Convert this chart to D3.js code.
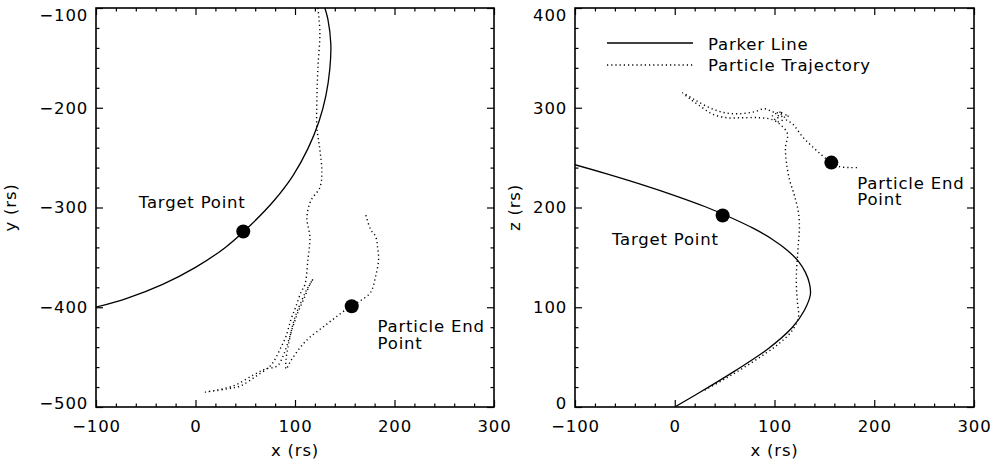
<!DOCTYPE html>
<meta charset="utf-8">
<style>
body { margin: 0; background: #fff; }
svg text { font-family: "DejaVu Sans", sans-serif; font-size: 16.5px; letter-spacing: 0.8px; fill: #000; }
.frame { fill: none; stroke: #000; stroke-width: 1.6; }
.tick line { stroke: #000; stroke-width: 1.2; }
.domain { display: none; }
.parker { fill: none; stroke: #000; stroke-width: 1.3; }
.traj { fill: none; stroke: #000; stroke-width: 1.4; stroke-dasharray: 1.2,3; }
</style>
<script src="https://d3js.org/d3.v7.min.js"></script>
<body>
<svg id="chart" width="995" height="466"></svg>
<script>
// axis ticks
var xTicks = [-100, 0, 100, 200, 300];
var yTicks = [-500, -400, -300, -200, -100];
var zTicks = [0, 100, 200, 300, 400];

// x-y plane
var parkerXY = [[130,-100],[133,-111],[136,-136],[135,-161],[131,-188],[124,-214],[113,-241],[98,-268],
  [79,-293],[56,-317],[30,-340],[0,-360],[-33,-377],[-69,-391],[-104,-401]];
var trajXY = [[123,-100],[125,-125],[123,-160],[122,-192],[122,-220],[125,-242],[127,-265],[125,-280],
  [116,-293],[112,-310],[115,-330],[113,-352],[110,-377],[106,-385],[101,-399],[96,-412],[91,-429],
  [85,-442],[80,-452],[75,-459],[61,-469],[45,-479],[31,-482],[10,-485],[22,-483],[40,-478],[58,-468],
  [70,-462],[82,-459],[88,-449],[93,-435],[98,-419],[103,-405],[110,-389],[115,-377],[118,-372],
  [112,-382],[106,-395],[100,-410],[96,-425],[93,-440],[91,-452],[91,-462],[95,-455],[101,-446],
  [108,-437],[115,-430],[128,-420],[141,-410],[156,-399],[165,-394],[176,-385],[181,-369],[184,-352],
  [183,-340],[181,-329],[176,-322],[171,-307]];
var targetXY = [48, -324];
var endXY = [157, -399];

// x-z plane
var parkerXZ = [[0,0],[24,14],[60,36],[93,58],[118,80],[130,97],[136,113],[135,124],[131,135],[124,146],
  [113,157],[98,168],[79,179],[56,190],[30,201],[0,212],[-33,223],[-69,234],[-104,244]];
var trajXZ = [[30,17],[50,28],[70,40],[90,53],[105,64],[118,77],[124,90],[123,105],[122,120],[122,135],
  [123,150],[124,165],[125,180],[124,195],[120,212],[115,228],[112,245],[111,260],[113,274],[107,282],
  [98,288],[85,290],[68,290],[52,290],[37,294],[25,302],[15,309],[8,315],[20,308],[35,300],[50,295],
  [65,294],[80,296],[90,299],[98,296],[106,294],[110,290],[104,286],[98,292],[108,296],[102,290],
  [114,293],[112,288],[118,284],[128,271],[138,261],[148,252],[157,245],[165,241],[175,240],[184,240]];
var targetXZ = [48, 192];
var endXZ = [157, 245];

var svg = d3.select("#chart");

function drawPanel(p) {
  var x = d3.scaleLinear().domain([-100, 300]).range([p.left, p.right]);
  var y = d3.scaleLinear().domain(p.yDomain).range([p.bottom, p.top]);
  var g = svg.append("g");
  var minorX = d3.range(-100, 301, 20).filter(function(v) { return v % 100 !== 0; });
  var minorY = d3.range(p.yDomain[0], p.yDomain[1] + 1, 20).filter(function(v) { return v % 100 !== 0; });

  var clipId = "clip" + p.left;
  svg.append("clipPath").attr("id", clipId).append("rect")
    .attr("x", p.left).attr("y", p.top).attr("width", p.right - p.left).attr("height", p.bottom - p.top);

  var line = d3.line().x(function(d) { return x(d[0]); }).y(function(d) { return y(d[1]); }).curve(d3.curveCatmullRom);
  var plot = g.append("g").attr("clip-path", "url(#" + clipId + ")");
  plot.append("path").attr("class", "parker").attr("d", line(p.parker));
  plot.append("path").attr("class", "traj").attr("d", line(p.traj));
  [p.target, p.end].forEach(function(d) {
    plot.append("circle").attr("cx", x(d[0])).attr("cy", y(d[1])).attr("r", 7).attr("fill", "#000");
  });

  // ticks, inward on all four sides
  g.append("g").attr("transform", "translate(0," + p.bottom + ")")
    .call(d3.axisBottom(x).tickValues(xTicks).tickSizeInner(-7).tickSizeOuter(0).tickPadding(13));
  g.append("g").attr("transform", "translate(0," + p.bottom + ")")
    .call(d3.axisBottom(x).tickValues(minorX).tickSize(-3.5).tickFormat(""));
  g.append("g").attr("transform", "translate(0," + p.top + ")")
    .call(d3.axisTop(x).tickValues(xTicks).tickSize(-7).tickFormat(""));
  g.append("g").attr("transform", "translate(0," + p.top + ")")
    .call(d3.axisTop(x).tickValues(minorX).tickSize(-3.5).tickFormat(""));
  var yl = g.append("g").attr("transform", "translate(" + p.left + ",0)")
    .call(d3.axisLeft(y).tickValues(p.yTicks).tickSizeInner(-7).tickSizeOuter(0).tickPadding(8));
  yl.selectAll(".tick text").attr("dy", function(d) {
    return d === p.yDomain[1] ? "0.75em" : d === p.yDomain[0] ? "0.08em" : "0.32em";
  });
  g.append("g").attr("transform", "translate(" + p.left + ",0)")
    .call(d3.axisLeft(y).tickValues(minorY).tickSize(-3.5).tickFormat(""));
  g.append("g").attr("transform", "translate(" + p.right + ",0)")
    .call(d3.axisRight(y).tickValues(p.yTicks).tickSize(-7).tickFormat(""));
  g.append("g").attr("transform", "translate(" + p.right + ",0)")
    .call(d3.axisRight(y).tickValues(minorY).tickSize(-3.5).tickFormat(""));
  g.selectAll(".tick text").attr("font-family", null).attr("font-size", null).attr("fill", "#000");

  g.append("rect").attr("class", "frame")
    .attr("x", p.left).attr("y", p.top).attr("width", p.right - p.left).attr("height", p.bottom - p.top);

  g.append("text").attr("x", (p.left + p.right) / 2).attr("y", 456).attr("text-anchor", "middle").text("x (rs)");
  g.append("text").attr("transform", "translate(" + p.yTitleX + "," + (p.top + p.bottom) / 2 + ") rotate(-90)")
    .attr("text-anchor", "middle").text(p.yTitle);

  g.append("text").attr("x", x(p.targetLabel[0])).attr("y", y(p.targetLabel[1])).text("Target Point");
  g.append("text").attr("x", x(p.endLabel[0])).attr("y", y(p.endLabel[1])).text("Particle End");
  g.append("text").attr("x", x(p.endLabel[0])).attr("y", y(p.endLabel[1]) + p.lineGap).text("Point");
  return { x: x, y: y, g: g };
}

drawPanel({
  left: 96, right: 494, top: 8, bottom: 407,
  yDomain: [-500, -100], yTicks: yTicks, yTitle: "y (rs)", yTitleX: 16,
  parker: parkerXY, traj: trajXY, target: targetXY, end: endXY,
  targetLabel: [-57, -300], endLabel: [183, -425], lineGap: 17
});

var right = drawPanel({
  left: 575, right: 974, top: 8, bottom: 407,
  yDomain: [0, 400], yTicks: zTicks, yTitle: "z (rs)", yTitleX: 520,
  parker: parkerXZ, traj: trajXZ, target: targetXZ, end: endXZ,
  targetLabel: [-63, 162], endLabel: [183, 219], lineGap: 16
});

// legend
var legend = right.g.append("g");
legend.append("line").attr("class", "parker").attr("x1", 607).attr("x2", 693).attr("y1", 43).attr("y2", 43);
legend.append("line").attr("class", "traj").attr("x1", 607).attr("x2", 693).attr("y1", 65).attr("y2", 65);
legend.append("text").attr("x", 708).attr("y", 50).text("Parker Line");
legend.append("text").attr("x", 708).attr("y", 71).text("Particle Trajectory");
</script>
</body>
